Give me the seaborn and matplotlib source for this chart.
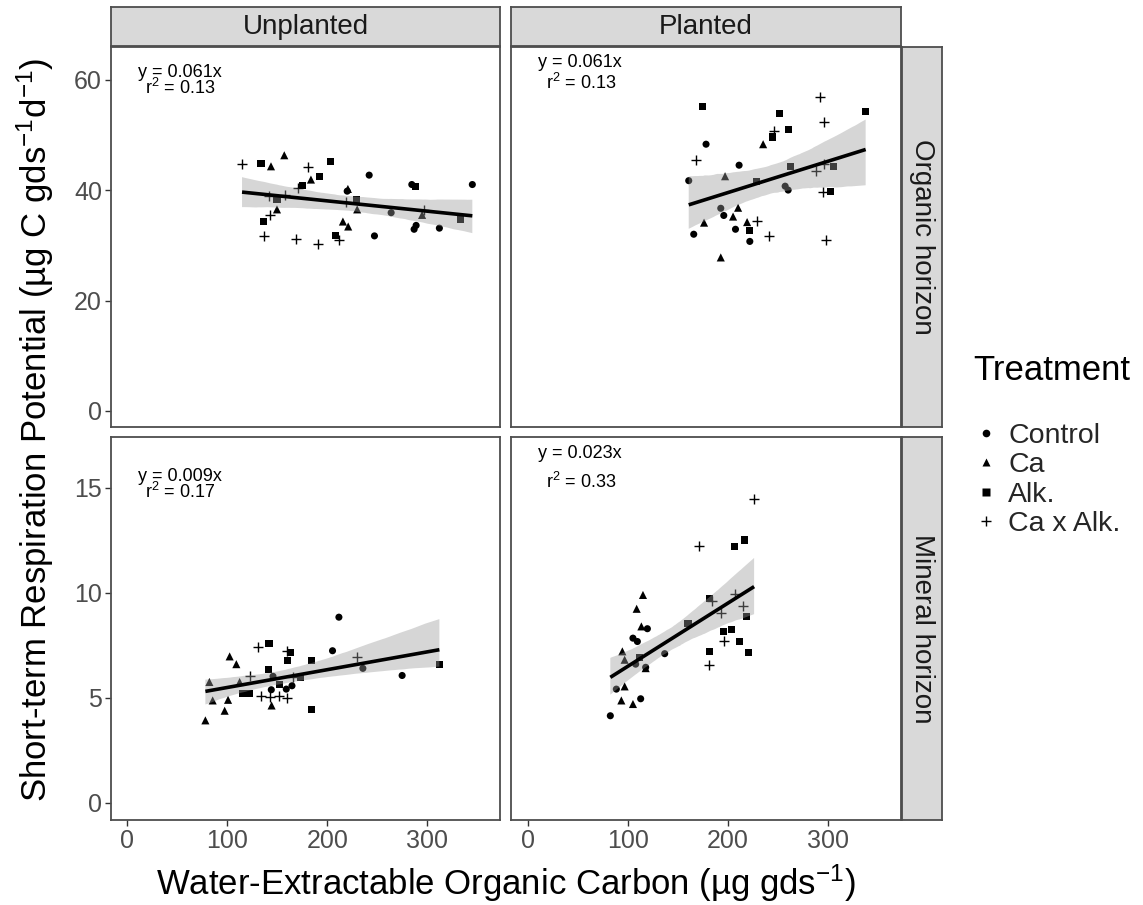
import numpy as np
import pandas as pd
import matplotlib
matplotlib.use("Agg")
import matplotlib.pyplot as plt
import seaborn as sns
from matplotlib.collections import PolyCollection
from matplotlib.lines import Line2D

sns.set_theme(style="white")
plt.rcParams['font.family'] = ['Liberation Sans', 'DejaVu Sans']
plt.rcParams['mathtext.fontset'] = 'custom'
plt.rcParams['mathtext.rm'] = 'Liberation Sans'
plt.rcParams['mathtext.it'] = 'Liberation Sans'
plt.rcParams['mathtext.default'] = 'regular'

# ---------------- data ----------------
treatments = ["Control", "Ca", "Alk.", "Ca x Alk."]
planting = ["Unplanted", "Planted"]
horizons = ["Organic horizon", "Mineral horizon"]

# Unplanted / Organic
uo_control_x = [242, 284.7, 345.3, 220, 264, 289, 287, 312.3, 247.3]
uo_control_y = [42.7, 41.0, 41.0, 39.8, 35.9, 33.6, 32.9, 33.1, 31.7]
uo_ca_x = [143.7, 157, 183.7, 220.7, 230, 295, 149.7, 215.7, 221]
uo_ca_y = [44.3, 46.3, 41.9, 40.2, 36.5, 35.5, 36.5, 34.3, 33.4]
uo_alk_x = [133.7, 203, 192, 175.7, 288, 149.7, 229, 333, 136.3, 208]
uo_alk_y = [44.8, 45.1, 42.5, 40.8, 40.6, 38.3, 38.2, 34.6, 34.3, 31.7]
uo_caalk_x = [114.7, 180.3, 170.7, 141.3, 158, 219, 297, 142.3, 136.3, 169, 190.3, 211.3]
uo_caalk_y = [44.8, 44.1, 40.4, 39.0, 39.1, 37.8, 36.4, 35.4, 31.7, 31.2, 30.3, 30.9]

# Planted / Organic
po_control_x = [178.3, 211.3, 161, 257.3, 260.3, 193, 196, 207.7, 166, 222]
po_control_y = [48.3, 44.5, 41.7, 40.7, 40.0, 36.7, 35.4, 32.9, 32.0, 30.7]
po_ca_x = [235.3, 197.3, 210.3, 205.3, 176.3, 219.3, 193]
po_ca_y = [48.3, 42.5, 36.8, 35.2, 34.1, 34.2, 27.8]
po_alk_x = [174.7, 251.3, 337.7, 260.7, 244.7, 263, 305.3, 228.7, 303, 222]
po_alk_y = [55.2, 53.8, 54.2, 50.9, 49.6, 44.3, 44.3, 41.6, 39.8, 32.6]
po_caalk_x = [292, 296, 246.3, 168, 296, 288, 295.3, 229.3, 241.3, 298]
po_caalk_y = [56.9, 52.4, 50.7, 45.4, 44.8, 43.4, 39.7, 34.4, 31.6, 30.9]

# Unplanted / Mineral
um_control_x = [211.7, 205.3, 235.7, 275, 145.7, 164.7, 144, 159]
um_control_y = [8.84, 7.24, 6.4, 6.06, 6.02, 5.57, 5.38, 5.41]
um_ca_x = [102.3, 109, 82, 112.3, 85.3, 100.7, 144.3, 97.3, 78]
um_ca_y = [6.97, 6.6, 5.75, 5.75, 4.87, 4.9, 4.63, 4.38, 3.92]
um_alk_x = [141.7, 163, 160, 184.7, 312.3, 141, 173, 152.3, 115.7, 121.7, 184.7]
um_alk_y = [7.6, 7.16, 6.76, 6.76, 6.57, 6.33, 5.97, 5.62, 5.22, 5.22, 4.43]
um_caalk_x = [130.7, 159.7, 229.7, 122.3, 165.7, 133.7, 142.3, 151.3, 159.7]
um_caalk_y = [7.41, 7.25, 6.92, 6.02, 5.97, 5.06, 5.02, 5.06, 4.97]

# Planted / Mineral
pm_control_x = [119.7, 105.3, 109.7, 137, 108, 118, 88.7, 113, 82.7]
pm_control_y = [8.29, 7.84, 7.68, 7.1, 6.6, 6.45, 5.41, 4.95, 4.14]
pm_ca_x = [115.3, 109, 113.7, 94.7, 97, 118, 97, 93.7, 105.3]
pm_ca_y = [9.9, 9.24, 8.4, 7.21, 6.81, 6.41, 5.54, 4.87, 4.7]
pm_alk_x = [206.3, 217, 181.3, 219, 160.3, 195.3, 203.7, 211.3, 220.7, 182, 112]
pm_alk_y = [12.2, 12.52, 9.75, 8.87, 8.56, 8.16, 8.27, 7.67, 7.17, 7.21, 6.9]
pm_caalk_x = [226.3, 171, 184.3, 207.3, 215.3, 193, 196.3, 181.3]
pm_caalk_y = [14.46, 12.25, 9.59, 9.95, 9.35, 9.06, 7.71, 6.56]

eq_labels = {("Unplanted", "Organic horizon"): ("y = 0.061x", "r$^{2}$ = 0.13"),
             ("Planted", "Organic horizon"): ("y = 0.061x", "r$^{2}$ = 0.13"),
             ("Unplanted", "Mineral horizon"): ("y = 0.009x", "r$^{2}$ = 0.17"),
             ("Planted", "Mineral horizon"): ("y = 0.023x", "r$^{2}$ = 0.33")}

x_ticks = [0, 100, 200, 300]
y_ticks_org = [0, 20, 40, 60]
y_ticks_min = [0, 5, 10, 15]

rows = []
panel_data = {
    ("Unplanted", "Organic horizon"): [(uo_control_x, uo_control_y), (uo_ca_x, uo_ca_y), (uo_alk_x, uo_alk_y), (uo_caalk_x, uo_caalk_y)],
    ("Planted", "Organic horizon"): [(po_control_x, po_control_y), (po_ca_x, po_ca_y), (po_alk_x, po_alk_y), (po_caalk_x, po_caalk_y)],
    ("Unplanted", "Mineral horizon"): [(um_control_x, um_control_y), (um_ca_x, um_ca_y), (um_alk_x, um_alk_y), (um_caalk_x, um_caalk_y)],
    ("Planted", "Mineral horizon"): [(pm_control_x, pm_control_y), (pm_ca_x, pm_ca_y), (pm_alk_x, pm_alk_y), (pm_caalk_x, pm_caalk_y)],
}
for (pl, hz), series in panel_data.items():
    for trt, (xs, ys) in zip(treatments, series):
        for xv, yv in zip(xs, ys):
            rows.append(dict(planting=pl, horizon=hz, treatment=trt, x=xv, y=yv))
df = pd.DataFrame(rows)

# ---------------- figure ----------------
W, H = 1143, 905
fig = plt.figure(figsize=(W / 100, H / 100), dpi=100)

def fx(px): return px / W
def fy(py): return 1 - py / H

col_x = [(111, 500), (511, 901)]
row_y = [(47, 427), (437, 820)]
markers = {"Control": "o", "Ca": "^", "Alk.": "s", "Ca x Alk.": "+"}
msize = {"Control": 26, "Ca": 34, "Alk.": 26, "Ca x Alk.": 60}
border = "#4d4d4d"

for ri, hz in enumerate(horizons):
    for ci, pl in enumerate(planting):
        x0, x1 = col_x[ci]
        y0, y1 = row_y[ri]
        ax = fig.add_axes([fx(x0), fy(y1), (x1 - x0) / W, (y1 - y0) / H])
        sub = df[(df.planting == pl) & (df.horizon == hz)]
        for trt in treatments:
            d = sub[sub.treatment == trt]
            if trt == "Ca x Alk.":
                sns.scatterplot(data=d, x="x", y="y", marker="+", s=msize[trt], color="black",
                                linewidth=1.0, ax=ax, legend=False)
            else:
                sns.scatterplot(data=d, x="x", y="y", marker=markers[trt], s=msize[trt], color="black",
                                edgecolor="none", linewidth=0, ax=ax, legend=False)
        sns.regplot(data=sub, x="x", y="y", scatter=False, ax=ax, color="black", ci=95, seed=3,
                    line_kws=dict(lw=2.6, solid_capstyle="butt"))
        for coll in ax.collections:
            if isinstance(coll, PolyCollection):
                coll.set_facecolor((0.6, 0.6, 0.6, 0.4))
                coll.set_alpha(None)
                coll.set_edgecolor("none")
        ax.set_xlim(-16.5, 373)
        if ri == 0:
            ax.set_ylim(-2.9, 65.9)
            ax.set_yticks(y_ticks_org)
        else:
            ax.set_ylim(-0.83, 17.43)
            ax.set_yticks(y_ticks_min)
        ax.set_xticks(x_ticks)
        ax.set_xlabel("")
        ax.set_ylabel("")
        ax.tick_params(axis="both", which="both", length=4.5, width=1.0, color="#333333",
                       labelsize=18, labelcolor="#4d4d4d", pad=2, direction="out",
                       bottom=(ri == 1), left=(ci == 0), labelbottom=(ri == 1), labelleft=(ci == 0))
        for sp in ax.spines.values():
            sp.set_color(border)
            sp.set_linewidth(1.3)
        ax.grid(False)
        # equation labels
        eq, r2 = eq_labels[(pl, hz)]
        pos = {(0, 0): ((0.069, 0.934), (0.087, 0.892)),
               (0, 1): ((0.069, 0.959), (0.090, 0.906)),
               (1, 0): ((0.069, 0.896), (0.087, 0.857)),
               (1, 1): ((0.069, 0.957), (0.090, 0.883))}[(ri, ci)]
        ax.text(*pos[0], eq, transform=ax.transAxes, fontsize=13, ha="left", va="center", color="black")
        ax.text(*pos[1], r2, transform=ax.transAxes, fontsize=13, ha="left", va="center", color="black")

# strips
def strip(x0, y0, x1, y1, label, rot):
    sax = fig.add_axes([fx(x0), fy(y1), (x1 - x0) / W, (y1 - y0) / H])
    sax.set_facecolor("#d9d9d9")
    sax.set_xticks([]); sax.set_yticks([])
    for sp in sax.spines.values():
        sp.set_color(border); sp.set_linewidth(1.3)
    sax.text(0.5, 0.5, label, transform=sax.transAxes, ha="center", va="center",
             rotation=rot, fontsize=20, color="#1a1a1a")

strip(111, 7, 500, 46, "Unplanted", 0)
strip(511, 7, 901, 46, "Planted", 0)
strip(902, 47, 942, 427, "Organic horizon", -90)
strip(902, 437, 942, 820, "Mineral horizon", -90)

fig.text(fx(506), fy(895), "Water-Extractable Organic Carbon (µg gds$^{-1}$)",
         ha="center", va="baseline", fontsize=25, color="black")
fig.text(fx(35), fy(430), "Short-term Respiration Potential (µg C gds$^{-1}$d$^{-1}$)",
         ha="center", va="center", rotation=90, fontsize=25, color="black")

# legend
fig.text(fx(973), fy(370), "Treatment", ha="left", va="center", fontsize=25, color="black")
handles = []
for trt in treatments:
    if trt == "Ca x Alk.":
        handles.append(Line2D([], [], marker="+", ls="none", color="black", markersize=7, mew=1.0))
    else:
        ms = 5.5 if trt != "Ca" else 6
        handles.append(Line2D([], [], marker=markers[trt], ls="none", color="black",
                              markeredgecolor="none", markersize=ms))
leg = fig.legend(handles, treatments, loc="upper left",
                 bbox_to_anchor=(fx(975), fy(423)), frameon=False, fontsize=20.5,
                 handlelength=0.8, handletextpad=0.36,
                 labelspacing=0.12, borderaxespad=0, borderpad=0)

fig.savefig("out.png", dpi=100)
